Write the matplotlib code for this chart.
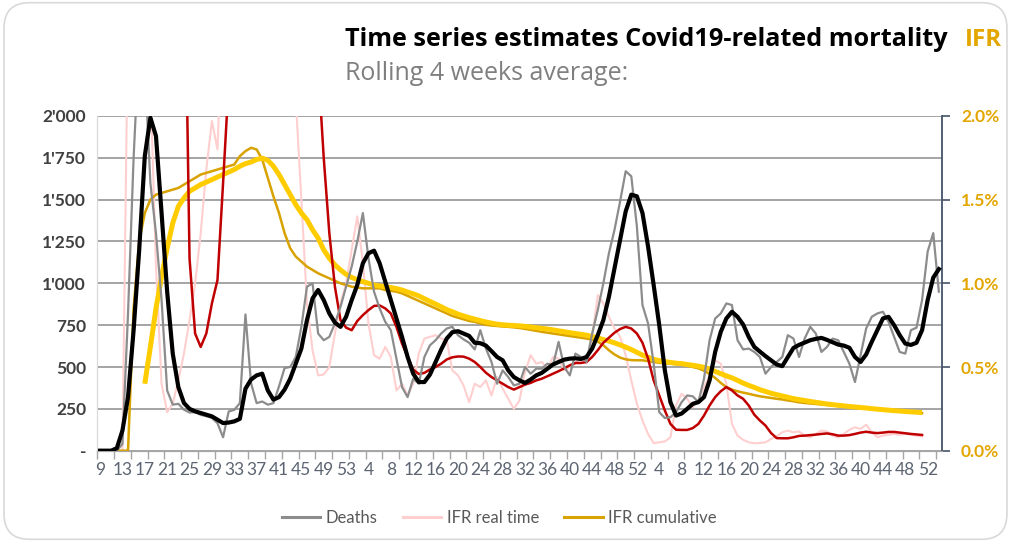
import numpy as np
import matplotlib.pyplot as plt
from matplotlib.patches import FancyBboxPatch
from matplotlib.lines import Line2D
from matplotlib.ticker import FixedLocator, FuncFormatter

plt.rcParams['font.family'] = ['Lato', 'DejaVu Sans']

nan = float('nan')

# week numbers: 2020 w9 .. 2023 w2
weeks = list(range(9, 54)) + list(range(1, 53)) + list(range(1, 53)) + [1, 2]

# weekly deaths
deaths = [
    0, 0, 0, 0, 40, 820, 1750, 2450, 2300, 1600,
    1300, 900, 360, 275, 280, 245, 228, 230, 214, 206,
    196, 164, 80, 234, 244, 284, 814, 404, 284, 294,
    275, 284, 384, 494, 500, 560, 740, 980, 1000, 700,
    660, 680, 760, 860, 980, 1100, 1250, 1420, 1150, 950,
    850, 770, 720, 550, 380, 320, 430, 400, 560, 630,
    660, 700, 730, 740, 690, 665, 645, 605, 720, 610,
    530, 400, 480, 440, 390, 400, 500, 460, 490, 490,
    520, 510, 650, 500, 450, 580, 560, 530, 700, 840,
    1000, 1180, 1320, 1490, 1670, 1640, 1340, 870, 760, 520,
    230, 195, 200, 230, 290, 330, 325, 290, 430, 660,
    790, 820, 880, 870, 660, 605, 610, 590, 560, 460,
    500, 530, 560, 690, 670, 560, 670, 740, 700, 590,
    620, 670, 660, 590, 520, 410, 570, 730, 800, 820,
    830, 770, 680, 590, 580, 720, 735, 900, 1190, 1300,
    950,
]

# rolling 4 weeks average of deaths
deaths_avg = [
    0, 0, 0, 15, 120, 320, 720, 1200, 1760, 1990,
    1880, 1420, 950, 580, 380, 285, 250, 235, 225, 215,
    205, 185, 165, 168, 175, 190, 370, 425, 450, 460,
    360, 305, 320, 365, 430, 520, 610, 780, 910, 960,
    900, 820, 765, 740, 800, 900, 990, 1120, 1180, 1195,
    1120, 1010, 900, 790, 680, 560, 460, 410, 410, 455,
    530, 604, 670, 708, 714, 700, 686, 645, 642, 628,
    595, 560, 540, 480, 440, 420, 405, 425, 450, 465,
    490, 515, 530, 544, 550, 552, 548, 560, 610, 690,
    780, 920, 1090, 1260, 1430, 1530, 1520, 1420, 1220, 990,
    750, 480, 290, 210, 222, 250, 280, 290, 320, 420,
    590, 710, 790, 830, 800, 754, 680, 620, 592, 565,
    540, 515, 505, 560, 614, 632, 646, 660, 668, 674,
    662, 648, 634, 628, 615, 560, 530, 575, 650, 720,
    790, 800, 750, 690, 640, 632, 645, 720, 900, 1034,
    1085,
]

# IFR real time (%)
ifr_real = [
    nan, nan, nan, nan, 0.0, 2.6, 5.0, 5.0, 3.5, 2.2,
    1.1, 0.40, 0.23, 0.28, 0.42, 0.58, 0.78, 1.0, 1.30, 1.68,
    1.97, 1.80, 2.7, 3.4, 4.0, 4.5, 4.2, 4.4, 4.6, 4.3,
    4.0, 3.7, 3.4, 3.1, 2.7, 2.1, 1.5, 0.88, 0.60, 0.45,
    0.455, 0.50, 0.70, 0.88, 1.0, 1.2, 1.40, 1.12, 0.76, 0.57,
    0.55, 0.62, 0.56, 0.36, 0.40, 0.33, 0.40, 0.58, 0.67, 0.68,
    0.69, 0.67, 0.66, 0.48, 0.45, 0.39, 0.29, 0.40, 0.38, 0.42,
    0.33, 0.44, 0.37, 0.31, 0.25, 0.30, 0.47, 0.57, 0.52, 0.53,
    0.49, 0.56, 0.55, 0.48, 0.50, 0.52, 0.56, 0.52, 0.68, 0.93,
    0.88, 0.80, 0.73, 0.68, 0.57, 0.42, 0.28, 0.18, 0.10, 0.045,
    0.05, 0.055, 0.08, 0.27, 0.34, 0.31, 0.26, 0.30, 0.38, 0.45,
    0.54, 0.52, 0.40, 0.16, 0.09, 0.065, 0.05, 0.044, 0.046, 0.05,
    0.07, 0.085, 0.11, 0.12, 0.11, 0.115, 0.09, 0.08, 0.10, 0.12,
    0.115, 0.09, 0.08, 0.10, 0.125, 0.14, 0.13, 0.155, 0.11, 0.08,
    0.09, 0.095, 0.10, 0.095, 0.10, 0.095, 0.09, 0.085, nan, nan,
    nan,
]

# rolling 4 weeks average of IFR real time (%)
ifr_real_avg = [
    nan, nan, nan, nan, nan, nan, nan, nan, nan, nan,
    nan, nan, nan, nan, nan, 3.3, 1.15, 0.70, 0.62, 0.70,
    0.88, 1.02, 1.60, 2.2, 3.0, 3.6, 4.2, 4.6, 4.8, 4.7,
    4.4, 4.0, 3.7, 3.5, 3.3, 3.1, 2.9, 2.8, 2.6, 2.3,
    1.75, 1.30, 0.98, 0.78, 0.735, 0.72, 0.775, 0.81, 0.84, 0.865,
    0.868, 0.85, 0.82, 0.74, 0.64, 0.56, 0.485, 0.458, 0.465, 0.485,
    0.50, 0.52, 0.545, 0.558, 0.563, 0.562, 0.55, 0.53, 0.50, 0.466,
    0.44, 0.42, 0.40, 0.38, 0.365, 0.38, 0.395, 0.405, 0.42, 0.43,
    0.445, 0.46, 0.475, 0.492, 0.51, 0.524, 0.524, 0.53, 0.56, 0.60,
    0.645, 0.675, 0.705, 0.727, 0.74, 0.73, 0.70, 0.645, 0.55, 0.42,
    0.33, 0.24, 0.16, 0.125, 0.124, 0.124, 0.135, 0.16, 0.21, 0.27,
    0.32, 0.355, 0.38, 0.36, 0.33, 0.31, 0.27, 0.215, 0.18, 0.15,
    0.105, 0.075, 0.074, 0.074, 0.08, 0.088, 0.09, 0.093, 0.096, 0.10,
    0.103, 0.098, 0.09, 0.09, 0.093, 0.10, 0.108, 0.113, 0.108, 0.105,
    0.108, 0.112, 0.112, 0.108, 0.104, 0.10, 0.097, 0.094, nan, nan,
    nan,
]

# IFR cumulative (%)
ifr_cum = [
    0, 0, 0, 0, 0, 0, 0.85, 1.25, 1.42, 1.50,
    1.53, 1.54, 1.55, 1.56, 1.57, 1.59, 1.61, 1.63, 1.65, 1.66,
    1.67, 1.68, 1.69, 1.70, 1.71, 1.76, 1.79, 1.81, 1.80, 1.74,
    1.63, 1.52, 1.42, 1.30, 1.21, 1.16, 1.13, 1.10, 1.08, 1.06,
    1.045, 1.03, 1.015, 1.00, 0.99, 0.98, 0.975, 0.97, 0.97, 0.97,
    0.97, 0.96, 0.955, 0.95, 0.94, 0.925, 0.91, 0.895, 0.88, 0.865,
    0.85, 0.835, 0.82, 0.805, 0.795, 0.785, 0.775, 0.77, 0.76, 0.752,
    0.748, 0.745, 0.742, 0.74, 0.737, 0.733, 0.728, 0.722, 0.716, 0.71,
    0.705, 0.70, 0.695, 0.69, 0.685, 0.68, 0.675, 0.67, 0.663, 0.652,
    0.63, 0.60, 0.575, 0.556, 0.546, 0.541, 0.54, 0.54, 0.535, 0.53,
    0.525, 0.522, 0.52, 0.516, 0.513, 0.508, 0.50, 0.492, 0.478, 0.458,
    0.435, 0.405, 0.38, 0.365, 0.355, 0.347, 0.34, 0.332, 0.325, 0.32,
    0.315, 0.31, 0.306, 0.30, 0.295, 0.289, 0.285, 0.282, 0.279, 0.276,
    0.273, 0.27, 0.268, 0.265, 0.262, 0.259, 0.256, 0.254, 0.25, 0.246,
    0.243, 0.24, 0.237, 0.234, 0.232, 0.229, 0.226, 0.224, nan, nan,
    nan,
]

# rolling 4 weeks average of IFR cumulative (%)
ifr_cum_avg = [
    nan, nan, nan, nan, nan, nan, nan, nan, 0.40, 0.62,
    0.85, 1.04, 1.21, 1.36, 1.46, 1.51, 1.55, 1.57, 1.59, 1.605,
    1.62, 1.635, 1.65, 1.665, 1.68, 1.70, 1.715, 1.725, 1.74, 1.748,
    1.735, 1.70, 1.65, 1.59, 1.53, 1.47, 1.42, 1.38, 1.32, 1.27,
    1.20, 1.15, 1.11, 1.08, 1.054, 1.035, 1.022, 1.01, 1.0, 0.99,
    0.984, 0.98, 0.975, 0.968, 0.96, 0.948, 0.937, 0.925, 0.908, 0.892,
    0.876, 0.86, 0.843, 0.83, 0.816, 0.805, 0.795, 0.786, 0.777, 0.769,
    0.762, 0.756, 0.752, 0.75, 0.748, 0.746, 0.743, 0.739, 0.735, 0.731,
    0.727, 0.722, 0.716, 0.711, 0.705, 0.70, 0.695, 0.69, 0.682, 0.673,
    0.664, 0.655, 0.644, 0.632, 0.619, 0.604, 0.588, 0.571, 0.558, 0.546,
    0.538, 0.532, 0.527, 0.523, 0.52, 0.515, 0.51, 0.505, 0.498, 0.488,
    0.474, 0.46, 0.447, 0.435, 0.42, 0.404, 0.39, 0.378, 0.364, 0.354,
    0.343, 0.335, 0.327, 0.319, 0.311, 0.305, 0.30, 0.294, 0.289, 0.284,
    0.279, 0.275, 0.271, 0.268, 0.264, 0.261, 0.258, 0.255, 0.251, 0.248,
    0.245, 0.242, 0.239, 0.237, 0.234, 0.232, 0.23, 0.228, nan, nan,
    nan,
]

GRAY = '#8C8C8C'
PINK = '#FFCFCF'
GOLD = '#D8A200'
YELLOW = '#FFCC00'
RED = '#C00000'
SLATE = '#44546A'
TITLE_FONT = ['Open Sans', 'DejaVu Sans']

fig = plt.figure(figsize=(10.11, 5.42), dpi=100)

# rounded chart frame
frame = FancyBboxPatch((0.004, 0.005), 0.992, 0.99, boxstyle='round,pad=0,rounding_size=0.025',
                       transform=fig.transFigure, fc='none', ec='#D9D9D9', lw=1.2,
                       mutation_aspect=1.87)
fig.patches.append(frame)

ax = fig.add_axes([0.0962, 0.1685, 0.8352, 0.6175])
ax2 = ax.twinx()
ax.set_zorder(ax2.get_zorder() + 1)
ax.patch.set_visible(False)

x = np.arange(len(weeks))

# IFR series on the secondary axis (drawn underneath)
ax2.plot(x, ifr_real, color=PINK, lw=1.5, zorder=2)
ax2.plot(x, ifr_cum, color=GOLD, lw=1.8, zorder=3)
ax2.plot(x, ifr_cum_avg, color=YELLOW, lw=3.6, zorder=4, solid_capstyle='butt')
ax2.plot(x, ifr_real_avg, color=RED, lw=1.8, zorder=5)

# deaths on the primary axis
ax.plot(x, deaths, color=GRAY, lw=1.6, zorder=3)
ax.plot(x, deaths_avg, color='black', lw=3.0, zorder=4)

ax.set_xlim(-0.5, len(weeks) - 0.5)
ax.set_ylim(0, 2000)
ax2.set_ylim(0, 2.0)

# gridlines
ax2.set_yticks(np.arange(0, 2.01, 0.5))
ax2.yaxis.set_minor_locator(FixedLocator(np.arange(0.25, 2.0, 0.5)))
ax2.grid(axis='y', which='both', color='#8C8C8C', lw=1.1)
ax2.tick_params(axis='y', which='minor', length=0)
ax2.set_axisbelow(True)

# left axis
ax.set_yticks(np.arange(0, 2001, 250))
ax.yaxis.set_major_formatter(FuncFormatter(
    lambda v, p: '-' if v == 0 else f"{int(v):,}".replace(',', "'")))
ax.tick_params(axis='y', length=0, pad=8, labelsize=12.5, labelcolor='#404040')
for t in ax.get_yticklabels():
    t.set_fontweight('bold')

# right axis
ax2.yaxis.set_major_formatter(FuncFormatter(lambda v, p: f"{v:.1f}%"))
ax2.tick_params(axis='y', which='major', direction='out', length=6, width=1.2,
                color=SLATE, pad=8, labelsize=12.5, labelcolor='#E3A600')
for t in ax2.get_yticklabels():
    t.set_fontweight('bold')

# x axis: labels every 4 weeks, tick marks every 3 weeks
ax.set_xticks(x[::4])
ax.set_xticklabels([str(w) for w in weeks[::4]])
ax.xaxis.set_minor_locator(FixedLocator(np.arange(-0.5, len(weeks), 3)))
ax.tick_params(axis='x', which='major', length=0, pad=8, labelsize=12.5, labelcolor='#5B6470')
ax.tick_params(axis='x', which='minor', length=6, color='#A6A6A6', width=1.0)

for a in (ax, ax2):
    a.spines['top'].set_visible(False)
    a.spines['left'].set_color('#D9D9D9')
    a.spines['bottom'].set_color('#A6A6A6')
    a.spines['right'].set_visible(False)
ax2.spines['right'].set_visible(True)
ax2.spines['right'].set_color(SLATE)
ax2.spines['right'].set_linewidth(1.3)

# titles
fig.text(0.341, 0.915, 'Time series estimates Covid19-related mortality', fontsize=18.2,
         fontweight='bold', color='black', va='baseline', family=TITLE_FONT)
fig.text(0.954, 0.915, 'IFR', fontsize=17.5, fontweight='bold', color='#E3A600', va='baseline',
         family=TITLE_FONT)
fig.text(0.341, 0.852, 'Rolling 4 weeks average:', fontsize=18, color='#7F7F7F', va='baseline',
         family=TITLE_FONT)

# legend
handles = [Line2D([], [], color=GRAY, lw=2.2),
           Line2D([], [], color=PINK, lw=2.2),
           Line2D([], [], color=GOLD, lw=2.2)]
fig.legend(handles, ['Deaths', 'IFR real time', 'IFR cumulative'], loc='center',
           bbox_to_anchor=(0.494, 0.045), ncol=3, frameon=False, fontsize=12,
           labelcolor='#595959', handlelength=2.3, columnspacing=1.5, handletextpad=0.35)

fig.savefig('out.png', dpi=100)
